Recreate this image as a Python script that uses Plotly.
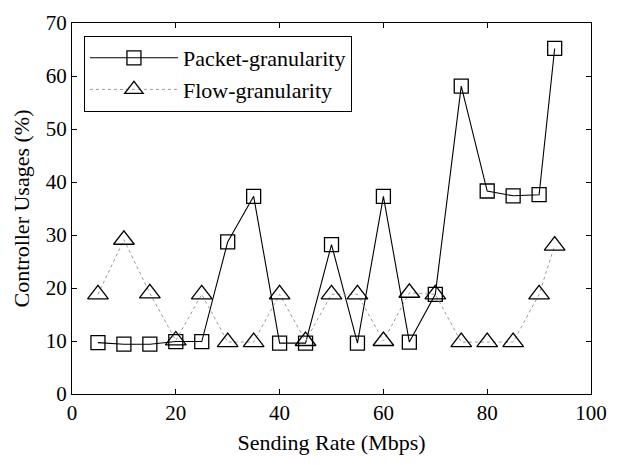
import plotly.graph_objects as go

# Sending rates (Mbps) at which controller usage was measured
rates = [5, 10, 15, 20, 25, 30, 35, 40, 45, 50, 55, 60, 65, 70, 75, 80, 85, 90, 93]

# Controller usage (%) for each granularity
packet_usage = [9.7, 9.4, 9.4, 9.9, 9.9, 28.7, 37.3, 9.6, 9.6, 28.2, 9.6, 37.3, 9.8, 18.8,
                58.1, 38.3, 37.4, 37.6, 65.2]
flow_usage = [18.8, 29.1, 19.0, 10.1, 18.8, 9.8, 9.8, 18.8, 10.0, 18.8, 18.8, 10.0, 19.1, 18.8,
              9.8, 9.8, 9.8, 18.8, 28.0]

x_ticks = [0, 20, 40, 60, 80, 100]
y_ticks = [0, 10, 20, 30, 40, 50, 60, 70]

FONT = "Liberation Serif, Times New Roman, serif"

fig = go.Figure()
fig.add_trace(go.Scatter(
    x=rates, y=packet_usage, name="Packet-granularity", mode="lines+markers",
    line=dict(color="black", width=1.1),
    marker=dict(symbol="square-open", size=14, color="black", line=dict(width=1.3)),
))
fig.add_trace(go.Scatter(
    x=rates, y=flow_usage, name="Flow-granularity", mode="lines+markers",
    line=dict(color="#9a9a9a", width=1, dash="dot"),
    marker=dict(symbol="triangle-up-open", size=18, color="black", line=dict(width=1.3)),
))

axis_common = dict(
    showline=True, linecolor="black", linewidth=1, mirror="ticks",
    ticks="inside", ticklen=5, tickcolor="black", tickwidth=1,
    showgrid=False, zeroline=False,
    tickfont=dict(family=FONT, size=21, color="black"),
)

fig.update_layout(
    width=618, height=465,
    margin=dict(l=72, r=17, t=11, b=71),
    paper_bgcolor="white", plot_bgcolor="white",
    font=dict(family=FONT, size=21, color="black"),
    xaxis=dict(range=[0, 100], tickvals=x_ticks,
               title=dict(text="Sending Rate (Mbps)", font=dict(family=FONT, size=22), standoff=10),
               **axis_common),
    yaxis=dict(range=[0, 70], tickvals=y_ticks,
               title=dict(text="Controller Usages (%)", font=dict(family=FONT, size=22), standoff=10),
               **axis_common),
    legend=dict(
        x=0.023, y=0.965, xanchor="left", yanchor="top",
        bgcolor="white", bordercolor="black", borderwidth=1,
        font=dict(family=FONT, size=22, color="black"),
        itemwidth=88, tracegroupgap=0,
    ),
    showlegend=True,
)

fig.write_html("out.html")
